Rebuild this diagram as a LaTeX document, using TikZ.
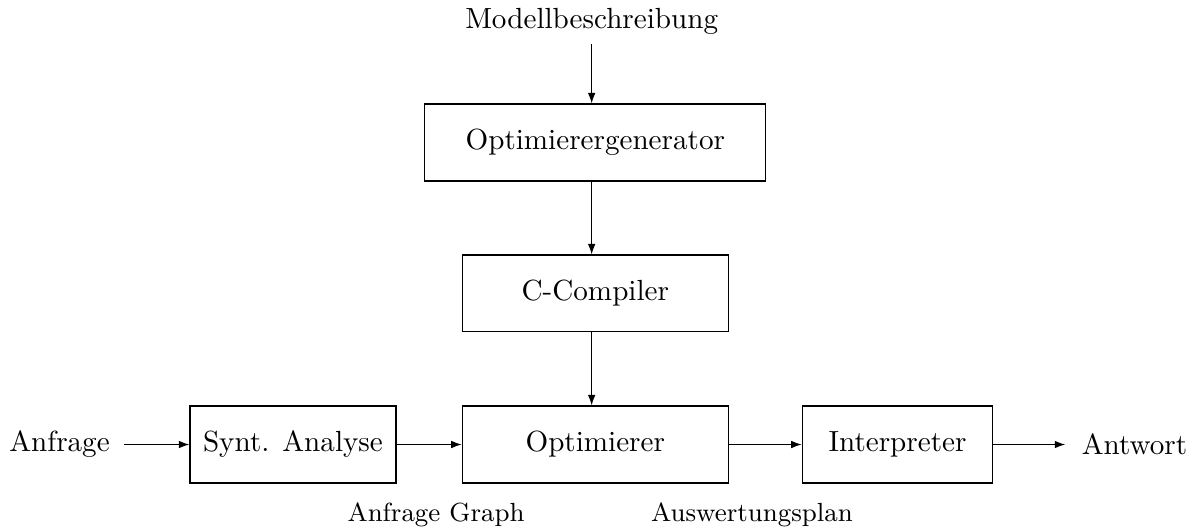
\documentclass[tikz,border=0pt]{standalone}
\usetikzlibrary{arrows.meta}
\begin{document}
\begin{tikzpicture}[
  box/.style={draw, line width=0.4pt, inner sep=0pt, anchor=center},
  arr/.style={-{Latex[length=3.6pt,width=2.6pt]}, line width=0.4pt},
  lbl/.style={inner sep=3.33pt},
  small lbl/.style={inner sep=3.33pt, font=\small}
]
\useasboundingbox (0,0) rectangle (14.511,6.357);
% top text
\node[lbl, anchor=base] (modell) at (7.137,6.019) {Modellbeschreibung};
% boxes
\node[box, minimum width=4.113cm, minimum height=0.929cm] (gen) at (7.181,4.638) {Optimierergenerator};
\node[box, minimum width=3.209cm, minimum height=0.925cm] (cc) at (7.181,2.818) {C-Compiler};
\node[box, minimum width=3.209cm, minimum height=0.929cm] (opt) at (7.181,0.995) {Optimierer};
\node[box, minimum width=2.485cm, minimum height=0.929cm] (synt) at (3.534,0.995) {Synt. Analyse};
\node[box, minimum width=2.297cm, minimum height=0.929cm] (interp) at (10.826,0.995) {Interpreter};
% side texts
\node[lbl, inner xsep=4.8pt] (anfrage) at (0.718,0.995) {Anfrage};
\node[lbl, inner xsep=5.5pt] (antwort) at (13.685,0.995) {Antwort};
% labels below
\node[small lbl, anchor=base] (graph) at (5.26,0.072) {Anfrage Graph};
\node[small lbl, anchor=base] (plan) at (9.071,0.072) {Auswertungsplan};
% connectors
\draw[arr] (modell.south) -- (gen.north -| modell.south);
\draw[arr] (gen.south -| modell.south) -- (cc.north -| modell.south);
\draw[arr] (cc.south -| modell.south) -- (opt.north -| modell.south);
\draw[arr] (anfrage.east) -- (synt.west);
\draw[arr] (synt.east) -- (opt.west);
\draw[arr] (opt.east) -- (interp.west);
\draw[arr] (interp.east) -- (antwort.west);
\end{tikzpicture}
\end{document}
